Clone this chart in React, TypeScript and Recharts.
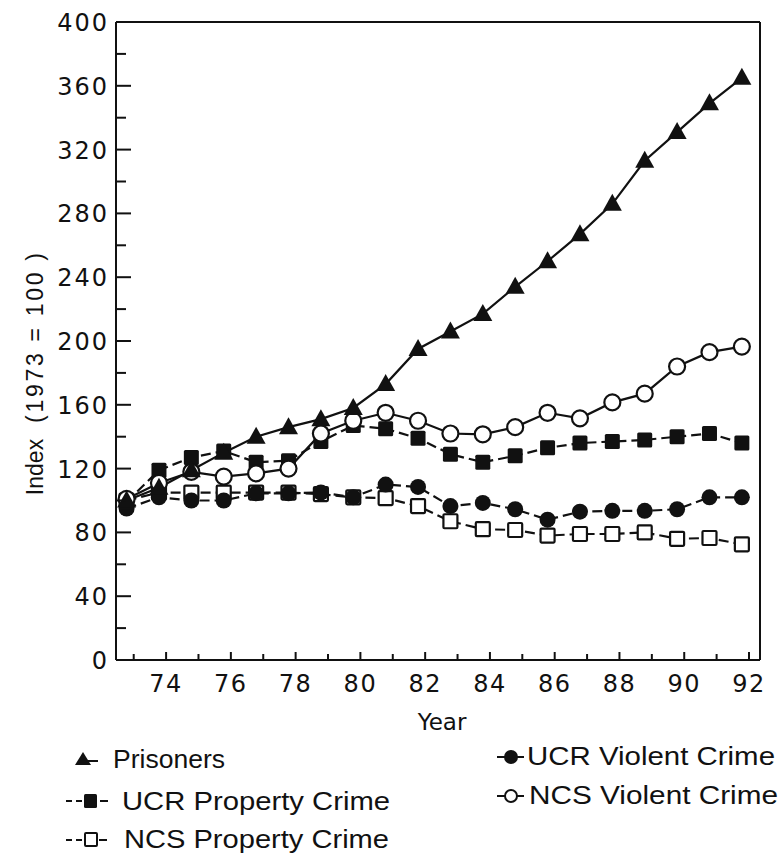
import React from "react";
import { LineChart, Line, XAxis, YAxis, ReferenceLine } from "recharts";

const years = [73, 74, 75, 76, 77, 78, 79, 80, 81, 82, 83, 84, 85, 86, 87, 88, 89, 90, 91, 92];
const prisoners = [100, 108, 119, 130, 140, 146, 151, 158, 173, 195, 206, 217, 234, 250, 267, 286, 313, 331, 349, 365];
const ucrProperty = [99, 119, 127, 131, 124, 125, 137, 147, 145, 139, 129, 124, 128, 133, 136, 137, 138, 140, 142, 136];
const ncsViolent = [101, 111, 118, 115, 117, 120, 142, 150, 155, 150, 142, 141.5, 146, 155, 151.5, 161.5, 167, 184, 193, 196.5];
const ucrViolent = [95, 102, 100, 100, 104.5, 104.5, 105, 102, 110, 108.5, 96.5, 98.5, 94.5, 88, 93, 93.5, 93.5, 94.5, 102, 102];
const ncsProperty = [100, 105, 105, 105, 105, 105, 104, 102, 101.5, 96.5, 87, 82, 81.5, 78, 79, 79, 80, 76, 76.5, 72.5];
const yTicks = [0, 20, 40, 60, 80, 100, 120, 140, 160, 180, 200, 220, 240, 260, 280, 300, 320, 340, 360, 380, 400];
const seriesNames = ["Prisoners", "UCR Property Crime", "NCS Property Crime", "UCR Violent Crime", "NCS Violent Crime"];

// points sit slightly left of each year tick in the original
const X_SHIFT = -0.22;
const X_DOMAIN: [number, number] = [72.453, 92.34];

const data = years.map((y, i) => ({
  x: y + X_SHIFT,
  prisoners: prisoners[i],
  ucrProperty: ucrProperty[i],
  ncsViolent: ncsViolent[i],
  ucrViolent: ucrViolent[i],
  ncsProperty: ncsProperty[i],
}));

const INK = "#111";
const NUM_FONT = "'DejaVu Sans', sans-serif";
const TXT_FONT = "'Liberation Sans Narrow', 'Liberation Sans', Arial, sans-serif";

const Triangle = (p: any) => {
  const { cx, cy, key } = p;
  if (cx == null || cy == null) return <g key={key} />;
  return <path key={key} d={`M${cx},${cy - 10} L${cx + 9.5},${cy + 7} L${cx - 9.5},${cy + 7} Z`} fill={INK} />;
};
const FilledSquare = (p: any) => {
  const { cx, cy, key } = p;
  if (cx == null || cy == null) return <g key={key} />;
  return <rect key={key} x={cx - 7.5} y={cy - 7.5} width={15} height={15} rx={1.5} fill={INK} />;
};
const OpenSquare = (p: any) => {
  const { cx, cy, key } = p;
  if (cx == null || cy == null) return <g key={key} />;
  return <rect key={key} x={cx - 7} y={cy - 7} width={14} height={14} rx={1} fill="#fff" stroke={INK} strokeWidth={2.2} />;
};
const FilledCircle = (p: any) => {
  const { cx, cy, key } = p;
  if (cx == null || cy == null) return <g key={key} />;
  return <circle key={key} cx={cx} cy={cy} r={8} fill={INK} />;
};
const OpenCircle = (p: any) => {
  const { cx, cy, key } = p;
  if (cx == null || cy == null) return <g key={key} />;
  return <circle key={key} cx={cx} cy={cy} r={8} fill="#fff" stroke={INK} strokeWidth={2.2} />;
};

const XTick = (p: any) => {
  const { x, y, payload } = p;
  const v = payload.value as number;
  return (
    <g>
      <line x1={x} y1={y} x2={x} y2={y - (v % 2 === 0 ? 8 : 6)} stroke={INK} strokeWidth={2} />
      {v % 2 === 0 && (
        <text x={x} y={y + 32} textAnchor="middle" fontFamily={NUM_FONT} fontSize={24} letterSpacing={1.5} fill={INK}>
          {v}
        </text>
      )}
    </g>
  );
};

const YTick = (p: any) => {
  const { x, y, payload } = p;
  const v = payload.value as number;
  const major = v % 40 === 0;
  return (
    <g>
      <line x1={x} y1={y} x2={x + (major ? 15 : 10)} y2={y} stroke={INK} strokeWidth={2} />
      {major && (
        <text x={x - 7} y={y + 9} textAnchor="end" fontFamily={NUM_FONT} fontSize={24} letterSpacing={2} fill={INK}>
          {v}
        </text>
      )}
    </g>
  );
};

const YTitle = () => (
  <g>
    <text
      transform="translate(43,467) rotate(-90)"
      textAnchor="middle"
      fontFamily={TXT_FONT}
      fontSize={23}
      fill={INK}
    >
      Index
    </text>
    <text
      transform="translate(43,338) rotate(-90)"
      textAnchor="middle"
      fontFamily={TXT_FONT}
      fontSize={23}
      fill={INK}
      textLength={170}
      lengthAdjust="spacing"
    >
      (1973 = 100 )
    </text>
  </g>
);

const LegendBox = () => {
  const row = (label: string, x: number, y: number, len: number) => (
    <text x={x} y={y} fontFamily={TXT_FONT} fontSize={26} fill={INK} textLength={len} lengthAdjust="spacingAndGlyphs">
      {label}
    </text>
  );
  return (
    <svg width={780} height={124} style={{ display: "block" }}>
      {/* Prisoners */}
      <path d="M75,35 L83,22 L91,35 Z" fill={INK} />
      <line x1={88} y1={31} x2={98} y2={31} stroke={INK} strokeWidth={2} />
      {row(seriesNames[0], 113, 38, 112)}
      {/* UCR Property */}
      <line x1={66} y1={71} x2={84} y2={71} stroke={INK} strokeWidth={2} strokeDasharray="6 4" />
      <rect x={84} y={64} width={13} height={14} rx={1.5} fill={INK} />
      <line x1={100} y1={71} x2={108} y2={71} stroke={INK} strokeWidth={2} />
      {row(seriesNames[1], 122, 80, 268)}
      {/* NCS Property */}
      <line x1={66} y1={110} x2={84} y2={110} stroke={INK} strokeWidth={2} strokeDasharray="6 4" />
      <rect x={85} y={103} width={12} height={13} rx={1} fill="#fff" stroke={INK} strokeWidth={2} />
      <line x1={99} y1={110} x2={107} y2={110} stroke={INK} strokeWidth={2} />
      {row(seriesNames[2], 124, 118, 265)}
      {/* UCR Violent */}
      <line x1={497} y1={27} x2={524} y2={27} stroke={INK} strokeWidth={2} />
      <circle cx={511} cy={27} r={7} fill={INK} />
      {row(seriesNames[3], 527, 35, 248)}
      {/* NCS Violent */}
      <line x1={497} y1={66} x2={524} y2={66} stroke={INK} strokeWidth={2} />
      <circle cx={511} cy={66} r={6} fill="#fff" stroke={INK} strokeWidth={2} />
      {row(seriesNames[4], 529, 74, 249)}
    </svg>
  );
};

export default function App() {
  return (
    <div style={{ position: "absolute", left: 0, top: 0, width: 780, height: 854, background: "#fff" }}>
      <LineChart width={780} height={854} data={data} margin={{ top: 22, right: 20, bottom: 0, left: 0 }}>
        <XAxis
          dataKey="x"
          type="number"
          domain={X_DOMAIN}
          allowDataOverflow
          ticks={years}
          interval={0}
          height={194}
          tickSize={0}
          tickMargin={0}
          tick={<XTick />}
          axisLine={{ stroke: INK, strokeWidth: 2 }}
          label={{ value: "Year", position: "insideTop", offset: 0, content: () => (
            <text x={442} y={730} textAnchor="middle" fontFamily={NUM_FONT} fontSize={23} fill={INK}>Year</text>
          ) }}
        />
        <YAxis
          type="number"
          domain={[0, 400]}
          ticks={yTicks}
          interval={0}
          width={116}
          tickSize={0}
          tickMargin={0}
          tick={<YTick />}
          axisLine={{ stroke: INK, strokeWidth: 2 }}
          label={{ value: "Index", content: () => <YTitle /> }}
        />
        <ReferenceLine y={400} stroke={INK} strokeWidth={2} ifOverflow="visible" />
        <ReferenceLine x={X_DOMAIN[1]} stroke={INK} strokeWidth={2} ifOverflow="visible" />
        <Line dataKey="ncsProperty" name={seriesNames[2]} stroke={INK} strokeWidth={2.2} strokeDasharray="10 5" dot={<OpenSquare />} isAnimationActive={false} />
        <Line dataKey="ucrViolent" name={seriesNames[3]} stroke={INK} strokeWidth={2.2} strokeDasharray="10 5" dot={<FilledCircle />} isAnimationActive={false} />
        <Line dataKey="ucrProperty" name={seriesNames[1]} stroke={INK} strokeWidth={2.2} strokeDasharray="10 5" dot={<FilledSquare />} isAnimationActive={false} />
        <Line dataKey="ncsViolent" name={seriesNames[4]} stroke={INK} strokeWidth={2.2} dot={<OpenCircle />} isAnimationActive={false} />
        <Line dataKey="prisoners" name={seriesNames[0]} stroke={INK} strokeWidth={2.2} dot={<Triangle />} isAnimationActive={false} />
      </LineChart>
      <div style={{ position: "absolute", left: 0, top: 730, width: 780, height: 124 }}>
        <LegendBox />
      </div>
    </div>
  );
}
